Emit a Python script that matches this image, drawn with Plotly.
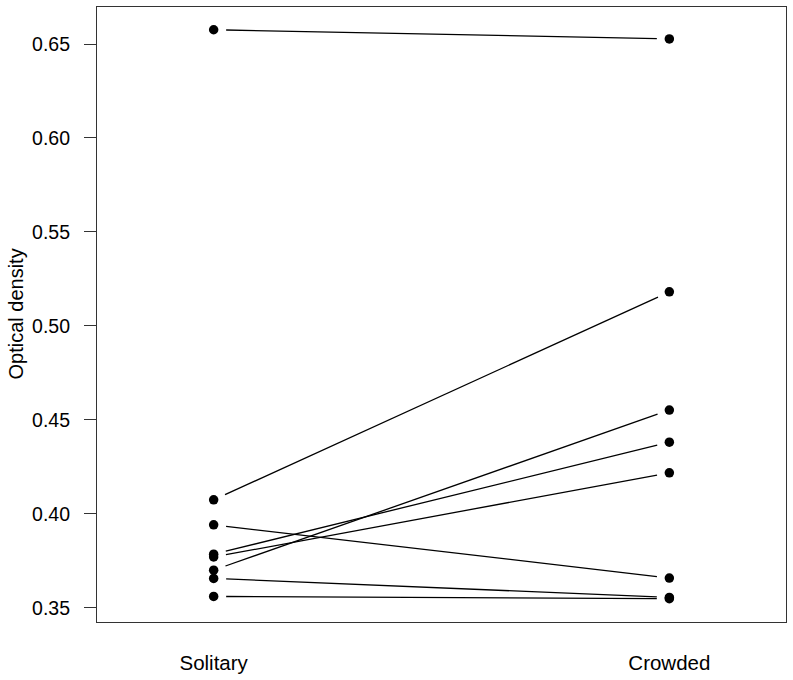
import plotly.graph_objects as go

groups = ["Solitary", "Crowded"]
solitary = [0.6576, 0.4074, 0.3941, 0.3785, 0.3770, 0.3700, 0.3656, 0.3560]
crowded = [0.6527, 0.5181, 0.3658, 0.4381, 0.4218, 0.4552, 0.3555, 0.3548]
y_ticks = [0.35, 0.40, 0.45, 0.50, 0.55, 0.60, 0.65]
y_title = "Optical density"

W, H = 793, 680
ml, mr, mt, mb = 97, 7, 7, 58
xr = [0.744, 2.256]
yr = [0.3424, 0.6697]
pw = W - ml - mr
pxx = pw / (xr[1] - xr[0])
pxy = (H - mt - mb) / (yr[1] - yr[0])
gap = 12.5  # px gap between point and line (R type="b")

lx, ly = [], []
for a, b in zip(solitary, crowded):
    dx = 1.0 * pxx
    dy = (b - a) * pxy
    L = (dx ** 2 + dy ** 2) ** 0.5
    f = gap / L
    lx += [1 + f, 2 - f, None]
    ly += [a + f * (b - a), b - f * (b - a), None]

fig = go.Figure()
fig.add_trace(go.Scatter(x=lx, y=ly, mode="lines",
                         line=dict(color="black", width=1.3),
                         hoverinfo="skip", showlegend=False))
px_ = [1] * len(solitary) + [2] * len(crowded)
py_ = solitary + crowded
fig.add_trace(go.Scatter(x=px_, y=py_, mode="markers",
                         marker=dict(color="black", size=9.5),
                         showlegend=False))

font = "Liberation Sans, Arial, sans-serif"
fig.update_layout(
    width=W, height=H,
    margin=dict(l=ml, r=mr, t=mt, b=mb, autoexpand=False),
    paper_bgcolor="white", plot_bgcolor="white",
    font=dict(family=font, color="black", size=19),
    xaxis=dict(range=xr, tickvals=[1, 2], ticktext=groups, automargin=False,
               showgrid=False, zeroline=False, ticks="",
               showline=True, mirror=True, linecolor="#333", linewidth=1.2,
               ticklabelstandoff=22, tickfont=dict(size=20.5)),
    yaxis=dict(range=yr, tickvals=y_ticks, tickformat=".2f", automargin=False,
               showgrid=False, zeroline=False, ticks="outside",
               ticklen=12, tickcolor="#333", tickwidth=1.2,
               showline=True, mirror=True, linecolor="#333", linewidth=1.2,
               ticklabelstandoff=10, tickfont=dict(size=19.5)),
    annotations=[dict(text=y_title, textangle=-90, showarrow=False,
                      xref="paper", yref="paper", x=-(ml - 15) / pw, y=0.5,
                      xanchor="center", yanchor="middle",
                      font=dict(size=20, family=font, color="black"))],
)
fig.write_html(
    "out.html",
    config={"displayModeBar": False},
    post_script="document.body.style.margin='0';document.body.style.overflow='hidden';",
)
